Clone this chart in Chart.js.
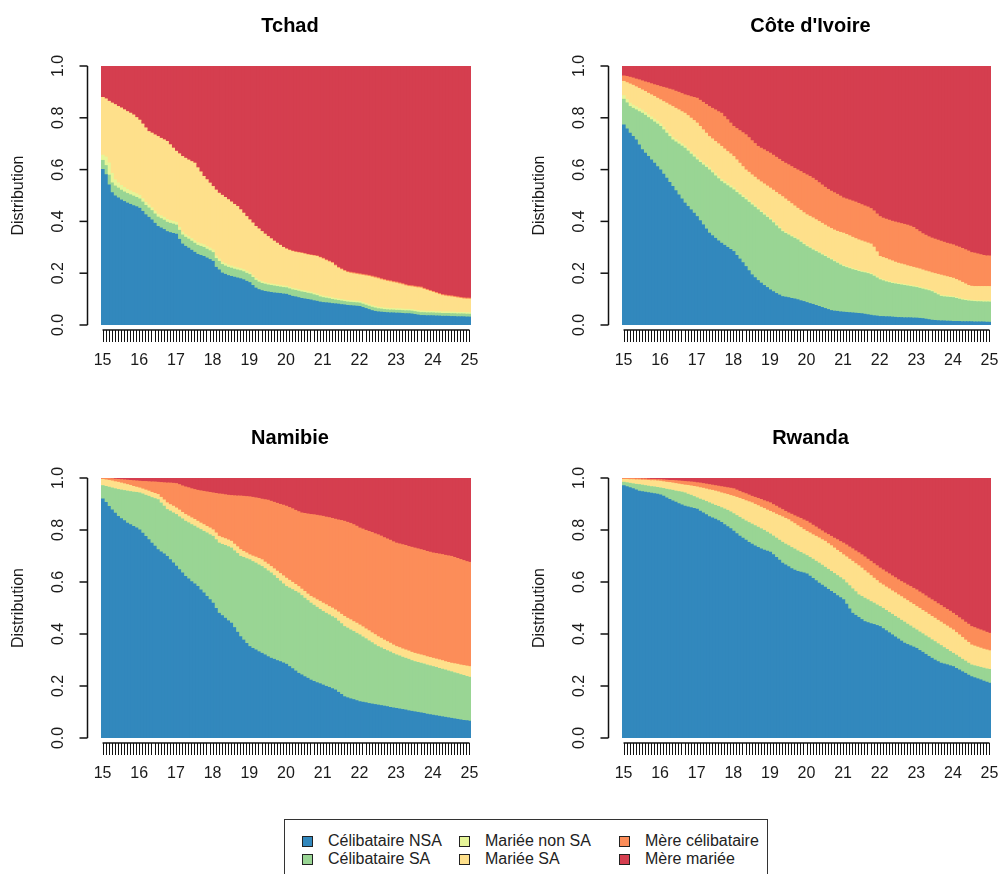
<!DOCTYPE html>
<html>
<head>
<meta charset="utf-8">
<script src="https://cdn.jsdelivr.net/npm/chart.js@4.4.1/dist/chart.umd.min.js"></script>
<style>
body { margin: 0; background: #fff; width: 998px; height: 874px; overflow: hidden; position: relative; font-family: "Liberation Sans", Arial, sans-serif; }
canvas { position: absolute; }
#legend { position: absolute; left: 284px; top: 819px; width: 484px; height: 90px; border: 1.5px solid #333; box-sizing: border-box; }
.sw { position: absolute; width: 9px; height: 9px; border: 1px solid #222; }
.lb { position: absolute; font-size: 16px; color: #222; line-height: 20px; white-space: nowrap; }
</style>
</head>
<body>
<canvas id="tchad" width="499" height="400" style="left:0;top:0"></canvas>
<canvas id="civ" width="499" height="400" style="left:499px;top:0"></canvas>
<canvas id="namibie" width="499" height="400" style="left:0;top:400px"></canvas>
<canvas id="rwanda" width="499" height="400" style="left:499px;top:400px"></canvas>
<div id="legend"></div>
<script>
//one bar per month of age, 15 to 25
const months = [];
for (let m = 0; m <= 120; m++) months.push(15 + m / 12);
const yearTicks = ["15", "16", "17", "18", "19", "20", "21", "22", "23", "24", "25"];
const yTicks = [0, 0.2, 0.4, 0.6, 0.8, 1.0];

const stateNames = ["Célibataire NSA", "Célibataire SA", "Mariée non SA", "Mariée SA", "Mère célibataire", "Mère mariée"];
const stateColors = ["#3288BD", "#99D594", "#E6F598", "#FEE08B", "#FC8D59", "#D53E4F"];

//upper edge (cumulative share) of each state band
//Tchad
const tchadCNSA = [
  .600,.580,.540,.510,.498,.490,.482,.476,.470,.465,.460,.456,
  .450,.438,.425,.415,.405,.392,.380,.374,.368,.360,.356,.353,
  .350,.330,.312,.303,.296,.288,.280,.272,.268,.264,.258,.252,
  .245,.222,.212,.200,.195,.190,.187,.184,.181,.178,.174,.168,
  .163,.152,.142,.136,.132,.129,.127,.125,.123,.122,.121,.119,
  .118,.114,.110,.108,.105,.102,.100,.098,.096,.093,.091,.088,
  .086,.085,.084,.082,.081,.080,.078,.077,.075,.074,.073,.072,
  .071,.067,.063,.059,.055,.052,.050,.049,.048,.047,.046,.046,
  .045,.045,.044,.043,.043,.042,.040,.038,.036,.036,.035,.035,
  .035,.034,.034,.033,.033,.033,.032,.032,.031,.031,.031,.030,
  .030];
const tchadCSA = [
  .635,.615,.578,.548,.536,.528,.520,.513,.507,.502,.497,.492,
  .486,.474,.461,.451,.441,.428,.416,.410,.404,.396,.392,.389,
  .385,.365,.347,.338,.331,.323,.315,.307,.303,.299,.292,.286,
  .279,.256,.245,.233,.227,.222,.219,.215,.212,.209,.205,.199,
  .194,.183,.172,.165,.160,.157,.154,.152,.150,.148,.146,.144,
  .143,.139,.135,.133,.130,.127,.125,.122,.120,.116,.113,.108,
  .105,.103,.101,.098,.096,.094,.092,.090,.088,.087,.086,.085,
  .084,.080,.076,.072,.068,.065,.062,.061,.059,.058,.057,.057,
  .056,.056,.055,.054,.054,.053,.051,.049,.047,.047,.046,.046,
  .046,.045,.045,.044,.044,.044,.043,.043,.042,.042,.042,.041,
  .041];
const tchadMNSA = [
  .655,.648,.625,.585,.560,.548,.538,.530,.523,.517,.511,.506,
  .500,.487,.473,.463,.452,.439,.427,.421,.415,.407,.403,.400,
  .396,.376,.358,.348,.341,.333,.325,.317,.313,.309,.302,.296,
  .289,.266,.254,.242,.236,.231,.227,.223,.220,.217,.213,.207,
  .201,.190,.179,.172,.167,.163,.160,.158,.156,.154,.152,.150,
  .149,.145,.141,.139,.136,.133,.131,.128,.126,.122,.119,.114,
  .111,.109,.107,.104,.102,.100,.098,.096,.094,.093,.092,.091,
  .090,.086,.082,.078,.074,.071,.068,.067,.065,.064,.063,.063,
  .062,.062,.061,.060,.060,.059,.057,.055,.053,.053,.052,.052,
  .052,.051,.051,.050,.050,.050,.049,.049,.048,.048,.048,.047,
  .047];
const tchadMSA = [
  .878,.872,.863,.856,.850,.843,.837,.830,.823,.817,.810,.800,
  .790,.775,.760,.746,.740,.733,.727,.720,.714,.708,.695,.682,
  .670,.660,.650,.643,.636,.630,.624,.606,.590,.573,.560,.547,
  .534,.520,.508,.500,.492,.483,.474,.465,.457,.444,.431,.418,
  .405,.393,.380,.370,.360,.350,.341,.332,.323,.315,.307,.299,
  .292,.287,.283,.280,.278,.276,.273,.270,.268,.266,.264,.259,
  .254,.248,.243,.238,.228,.219,.213,.207,.202,.199,.197,.195,
  .193,.191,.189,.187,.184,.181,.178,.174,.171,.168,.166,.163,
  .161,.158,.155,.151,.148,.147,.145,.143,.142,.137,.133,.129,
  .125,.121,.117,.113,.111,.109,.108,.106,.104,.102,.100,.099,
  .099];
const tchadMC = [
  .878,.872,.863,.856,.850,.843,.837,.830,.823,.817,.810,.800,
  .790,.775,.760,.746,.740,.733,.727,.720,.714,.708,.695,.682,
  .670,.660,.650,.643,.636,.630,.624,.606,.590,.573,.560,.547,
  .534,.520,.508,.500,.492,.483,.474,.465,.457,.444,.431,.418,
  .405,.393,.380,.370,.360,.350,.341,.332,.323,.315,.307,.299,
  .294,.289,.285,.282,.280,.278,.275,.272,.270,.268,.266,.261,
  .257,.251,.246,.241,.231,.222,.216,.210,.205,.203,.201,.199,
  .197,.195,.193,.191,.188,.185,.182,.178,.175,.172,.170,.167,
  .165,.162,.159,.155,.152,.151,.149,.147,.146,.141,.137,.133,
  .129,.125,.121,.117,.115,.113,.112,.110,.108,.106,.104,.103,
  .103];

//Côte d'Ivoire
const civCNSA = [
  .772,.756,.740,.727,.714,.695,.676,.663,.650,.637,.624,.611,
  .598,.582,.566,.550,.534,.518,.502,.486,.470,.457,.444,.431,
  .418,.402,.386,.370,.354,.344,.334,.324,.315,.307,.299,.291,
  .283,.268,.254,.240,.225,.209,.193,.182,.171,.161,.152,.144,
  .135,.128,.121,.115,.109,.107,.105,.102,.100,.097,.093,.090,
  .086,.082,.079,.075,.071,.067,.063,.059,.055,.053,.052,.050,
  .049,.048,.047,.046,.045,.044,.043,.041,.039,.037,.035,.034,
  .032,.032,.031,.031,.030,.029,.028,.028,.027,.027,.027,.026,
  .026,.025,.024,.022,.020,.018,.017,.016,.015,.015,.014,.014,
  .013,.013,.013,.012,.012,.012,.012,.011,.011,.011,.011,.010,
  .010];
const civCSA = [
  .871,.857,.843,.836,.830,.823,.817,.809,.800,.792,.783,.775,
  .766,.753,.740,.727,.714,.706,.698,.690,.682,.671,.659,.648,
  .637,.627,.617,.608,.598,.587,.575,.564,.553,.545,.537,.529,
  .521,.511,.502,.492,.483,.473,.463,.454,.444,.434,.424,.415,
  .405,.394,.382,.371,.360,.353,.347,.340,.334,.328,.319,.310,
  .302,.296,.289,.283,.277,.270,.264,.257,.251,.244,.238,.231,
  .225,.221,.217,.213,.210,.206,.203,.201,.198,.194,.188,.181,
  .174,.170,.166,.163,.160,.158,.156,.154,.152,.150,.148,.146,
  .144,.141,.138,.135,.132,.128,.122,.116,.110,.108,.107,.106,
  .105,.102,.099,.096,.094,.092,.091,.090,.089,.089,.088,.088,
  .088];
const civMNSA = [
  .885,.870,.856,.848,.842,.835,.829,.820,.811,.803,.794,.786,
  .776,.763,.749,.736,.723,.715,.707,.699,.690,.679,.667,.656,
  .645,.635,.625,.616,.606,.595,.583,.572,.561,.553,.545,.537,
  .529,.519,.509,.499,.490,.480,.470,.460,.450,.440,.430,.420,
  .410,.399,.387,.376,.365,.357,.351,.344,.338,.332,.323,.314,
  .306,.300,.293,.287,.281,.274,.268,.261,.255,.248,.242,.235,
  .229,.225,.221,.217,.214,.210,.207,.205,.202,.198,.192,.185,
  .178,.174,.170,.167,.164,.162,.160,.158,.156,.154,.152,.150,
  .148,.145,.142,.139,.136,.132,.126,.120,.114,.112,.111,.110,
  .109,.106,.103,.100,.098,.096,.095,.094,.093,.093,.092,.092,
  .092];
const civMSA = [
  .940,.935,.930,.925,.919,.913,.907,.901,.894,.888,.882,.875,
  .869,.862,.856,.849,.843,.836,.830,.823,.817,.808,.798,.789,
  .779,.766,.753,.740,.727,.718,.708,.699,.689,.679,.669,.660,
  .650,.637,.624,.611,.598,.589,.579,.570,.560,.552,.544,.536,
  .528,.520,.511,.503,.495,.486,.477,.468,.459,.450,.442,.433,
  .425,.419,.413,.406,.399,.392,.385,.378,.372,.366,.361,.357,
  .354,.349,.344,.338,.333,.328,.324,.320,.316,.312,.300,.282,
  .264,.260,.256,.251,.247,.242,.238,.235,.232,.228,.225,.222,
  .219,.216,.212,.208,.205,.201,.198,.195,.192,.189,.186,.183,
  .180,.175,.170,.164,.158,.152,.149,.148,.148,.148,.148,.148,
  .148];
const civMC = [
  .961,.959,.956,.953,.949,.946,.942,.938,.935,.931,.927,.924,
  .920,.917,.914,.910,.907,.902,.898,.893,.888,.885,.881,.878,
  .875,.867,.859,.851,.843,.836,.830,.823,.817,.804,.792,.779,
  .766,.758,.750,.742,.734,.723,.711,.700,.689,.682,.676,.669,
  .663,.655,.647,.639,.631,.624,.618,.611,.604,.598,.592,.585,
  .579,.573,.566,.558,.549,.540,.531,.523,.516,.510,.504,.497,
  .490,.486,.482,.478,.474,.469,.464,.459,.455,.449,.440,.428,
  .418,.412,.408,.404,.400,.397,.394,.391,.388,.385,.381,.376,
  .368,.360,.352,.346,.340,.335,.331,.327,.323,.319,.315,.312,
  .309,.304,.300,.295,.290,.285,.279,.277,.274,.271,.268,.266,
  .266];

//Namibie (no visible "Mariée non SA" band)
const namibieCNSA = [
  .919,.905,.890,.877,.864,.852,.843,.835,.826,.820,.813,.807,
  .800,.787,.775,.762,.749,.737,.724,.715,.707,.698,.685,.673,
  .660,.647,.634,.621,.611,.601,.592,.582,.569,.557,.544,.531,
  .518,.498,.479,.470,.460,.450,.441,.424,.406,.389,.376,.363,
  .351,.344,.338,.331,.325,.319,.312,.306,.302,.297,.293,.288,
  .283,.274,.266,.257,.248,.242,.235,.229,.222,.217,.212,.208,
  .203,.198,.194,.189,.184,.175,.167,.158,.154,.150,.147,.143,
  .139,.137,.135,.132,.130,.128,.126,.124,.122,.120,.117,.115,
  .113,.111,.109,.107,.104,.102,.100,.098,.096,.094,.091,.089,
  .087,.085,.083,.081,.079,.077,.075,.073,.071,.069,.067,.066,
  .064];
const namibieCSA = [
  .970,.967,.964,.961,.958,.955,.953,.951,.949,.947,.945,.944,
  .942,.938,.933,.929,.924,.920,.916,.903,.891,.878,.872,.865,
  .859,.850,.842,.833,.827,.820,.814,.807,.801,.794,.788,.781,
  .775,.762,.749,.744,.740,.735,.730,.719,.709,.698,.694,.689,
  .685,.678,.672,.665,.659,.651,.642,.634,.624,.613,.603,.592,
  .582,.576,.570,.563,.557,.547,.537,.528,.518,.510,.502,.494,
  .486,.479,.473,.466,.460,.449,.439,.428,.422,.415,.409,.402,
  .396,.388,.381,.373,.366,.358,.351,.346,.340,.335,.330,.324,
  .319,.315,.310,.306,.302,.297,.293,.290,.287,.284,.280,.277,
  .274,.271,.267,.264,.261,.257,.254,.250,.247,.243,.240,.236,
  .233];
const namibieMNSA = namibieCSA;
const namibieMSA = [
  .994,.992,.990,.988,.985,.983,.980,.977,.974,.971,.967,.964,
  .961,.957,.953,.949,.944,.940,.936,.925,.915,.904,.897,.891,
  .884,.876,.867,.859,.853,.846,.840,.833,.826,.820,.813,.807,
  .800,.788,.775,.770,.766,.761,.756,.745,.735,.724,.717,.711,
  .704,.699,.695,.690,.685,.676,.668,.659,.650,.641,.632,.623,
  .614,.606,.598,.590,.582,.572,.563,.553,.544,.538,.531,.525,
  .518,.512,.505,.499,.492,.484,.475,.467,.460,.454,.447,.441,
  .434,.427,.419,.412,.404,.397,.389,.383,.376,.370,.364,.357,
  .351,.347,.342,.338,.334,.329,.325,.322,.319,.316,.312,.309,
  .306,.303,.300,.297,.293,.290,.287,.285,.283,.280,.278,.276,
  .274];
const namibieMC = [
  1.00,.999,.998,.997,.995,.994,.993,.992,.991,.990,.989,.988,
  .987,.986,.986,.985,.984,.984,.983,.982,.981,.980,.980,.979,
  .978,.974,.969,.965,.962,.958,.955,.952,.950,.948,.946,.944,
  .942,.940,.938,.937,.935,.933,.932,.931,.930,.930,.929,.928,
  .927,.925,.923,.921,.918,.916,.914,.910,.906,.902,.898,.895,
  .891,.886,.881,.875,.870,.865,.863,.861,.859,.858,.856,.854,
  .852,.849,.847,.844,.841,.838,.836,.833,.829,.825,.820,.814,
  .807,.803,.798,.794,.790,.785,.781,.776,.770,.765,.760,.754,
  .749,.746,.743,.740,.736,.733,.730,.727,.724,.721,.717,.714,
  .711,.709,.707,.705,.702,.700,.698,.694,.690,.686,.682,.678,
  .675];

//Rwanda (no visible "Mariée non SA" band)
const rwandaCNSA = [
  .970,.966,.962,.958,.953,.949,.947,.945,.943,.941,.939,.937,
  .934,.929,.923,.917,.911,.906,.901,.896,.891,.888,.885,.882,
  .879,.872,.865,.858,.851,.846,.841,.835,.828,.820,.812,.804,
  .795,.785,.776,.768,.760,.752,.745,.738,.732,.727,.722,.718,
  .714,.704,.694,.683,.672,.665,.658,.651,.645,.640,.637,.634,
  .630,.622,.613,.604,.595,.587,.579,.571,.563,.555,.547,.539,
  .531,.514,.496,.479,.471,.463,.455,.447,.443,.439,.436,.432,
  .428,.420,.412,.404,.396,.388,.380,.372,.364,.359,.354,.349,
  .344,.336,.329,.321,.313,.306,.299,.293,.287,.284,.281,.277,
  .274,.267,.261,.254,.248,.241,.235,.231,.227,.223,.218,.214,
  .210];
const rwandaCSA = [
  .983,.981,.979,.977,.975,.974,.972,.970,.968,.966,.965,.963,
  .961,.959,.956,.954,.952,.949,.947,.945,.942,.937,.933,.928,
  .923,.918,.914,.909,.904,.899,.894,.890,.885,.880,.875,.869,
  .862,.855,.848,.841,.834,.828,.822,.816,.810,.804,.798,.791,
  .784,.776,.768,.760,.752,.745,.739,.732,.726,.719,.713,.707,
  .701,.694,.687,.679,.672,.664,.656,.648,.640,.632,.624,.616,
  .608,.596,.585,.573,.562,.550,.544,.537,.531,.524,.518,.511,
  .505,.498,.490,.482,.475,.467,.460,.452,.445,.437,.430,.422,
  .415,.407,.400,.392,.385,.377,.370,.362,.355,.347,.340,.332,
  .325,.318,.310,.302,.295,.287,.280,.277,.274,.271,.268,.265,
  .263];
const rwandaMNSA = rwandaCSA;
const rwandaMSA = [
  .994,.994,.993,.993,.992,.992,.991,.991,.990,.989,.989,.988,
  .987,.985,.983,.982,.980,.978,.976,.974,.972,.971,.969,.967,
  .965,.962,.960,.957,.954,.952,.949,.946,.942,.939,.936,.932,
  .929,.925,.921,.917,.912,.908,.904,.898,.893,.887,.882,.876,
  .871,.866,.860,.855,.850,.844,.839,.831,.824,.816,.809,.801,
  .794,.788,.781,.775,.769,.762,.756,.747,.739,.730,.721,.713,
  .704,.696,.687,.679,.670,.662,.653,.643,.634,.624,.614,.605,
  .595,.588,.580,.573,.565,.558,.550,.543,.535,.528,.520,.513,
  .505,.498,.490,.483,.475,.467,.460,.452,.445,.437,.430,.422,
  .415,.405,.396,.386,.376,.367,.357,.353,.349,.345,.341,.338,
  .335];
const rwandaMC = [
  .999,.999,.998,.998,.997,.997,.996,.996,.995,.994,.994,.993,
  .993,.992,.991,.990,.990,.989,.988,.987,.986,.985,.984,.983,
  .981,.980,.978,.976,.974,.972,.970,.968,.966,.964,.962,.960,
  .958,.953,.948,.943,.939,.934,.929,.925,.921,.917,.912,.908,
  .904,.897,.891,.884,.878,.871,.865,.860,.854,.849,.844,.838,
  .833,.826,.818,.811,.803,.796,.788,.782,.775,.768,.762,.755,
  .749,.742,.734,.727,.719,.712,.704,.696,.687,.679,.670,.662,
  .653,.646,.638,.631,.623,.616,.608,.601,.595,.588,.582,.575,
  .569,.561,.554,.546,.538,.531,.524,.516,.509,.501,.494,.487,
  .479,.471,.462,.454,.445,.437,.428,.424,.419,.415,.411,.406,
  .402];

//draws the R style axes, axis labels and panel title from the chart's own scales
const rAxes = {
  id: "rAxes",
  afterDraw(chart, args, opts) {
    const ctx = chart.ctx;
    const a = chart.chartArea;
    const x = chart.scales.x;
    const y = chart.scales.y;
    ctx.save();
    ctx.strokeStyle = "#111";
    ctx.fillStyle = "#1a1a1a";

    //y axis, set off to the left of the bars
    const ax = Math.round(a.left - 14) + 0.5;
    ctx.lineWidth = 1.5;
    ctx.beginPath();
    ctx.moveTo(ax, y.getPixelForValue(0));
    ctx.lineTo(ax, y.getPixelForValue(1));
    ctx.stroke();
    ctx.font = "16px 'Liberation Sans', Arial, sans-serif";
    ctx.textAlign = "center";
    ctx.textBaseline = "middle";
    yTicks.forEach(v => {
      const py = y.getPixelForValue(v);
      ctx.beginPath();
      ctx.moveTo(ax - 8, py);
      ctx.lineTo(ax, py);
      ctx.stroke();
      ctx.save();
      ctx.translate(ax - 29, py);
      ctx.rotate(-Math.PI / 2);
      ctx.fillText(v.toFixed(1), 0, 0);
      ctx.restore();
    });
    ctx.save();
    ctx.translate(ax - 69, (y.getPixelForValue(0) + y.getPixelForValue(1)) / 2);
    ctx.rotate(-Math.PI / 2);
    ctx.fillText("Distribution", 0, 0);
    ctx.restore();

    //x axis: a tick for every month, a label every year
    const ty = a.bottom + 5;
    ctx.lineWidth = 1.5;
    ctx.beginPath();
    ctx.moveTo(x.getPixelForValue(0), ty);
    ctx.lineTo(x.getPixelForValue(months.length - 1), ty);
    ctx.stroke();
    ctx.lineWidth = 1;
    for (let i = 0; i < months.length; i++) {
      const px = Math.round(x.getPixelForValue(i)) + 0.5;
      ctx.beginPath();
      ctx.moveTo(px, ty);
      ctx.lineTo(px, ty + 12);
      ctx.stroke();
    }
    yearTicks.forEach((lab, k) => {
      ctx.fillText(lab, x.getPixelForValue(k * 12), a.bottom + 36);
    });

    //title
    ctx.font = "bold 20px 'Liberation Sans', Arial, sans-serif";
    ctx.fillStyle = "#000";
    ctx.fillText(opts.title, (a.left + a.right) / 2 + 4, a.top - 40);
    ctx.restore();
  }
};

function makePanel(id, title, tops, pad) {
  //band k runs from edge k to edge k+1
  const edges = [months.map(() => 0)].concat(tops, [months.map(() => 1)]);
  const datasets = stateNames.map((name, k) => ({
    label: name,
    backgroundColor: stateColors[k],
    data: months.map((m, i) => [edges[k][i], edges[k + 1][i]])
  }));
  new Chart(document.getElementById(id), {
    type: "bar",
    data: { labels: months, datasets: datasets },
    options: {
      responsive: false,
      animation: false,
      devicePixelRatio: 1,
      layout: { padding: pad },
      datasets: { bar: { grouped: false, barPercentage: 1, categoryPercentage: 1, borderWidth: 0, inflateAmount: 0.6 } },
      scales: {
        x: { display: false },
        y: { display: false, min: 0, max: 1, stacked: false }
      },
      plugins: { legend: { display: false }, tooltip: { enabled: false }, rAxes: { title: title } }
    },
    plugins: [rAxes]
  });
}

makePanel("tchad", "Tchad", [tchadCNSA, tchadCSA, tchadMNSA, tchadMSA, tchadMC], { left: 101, right: 28, top: 66, bottom: 75 });
makePanel("civ", "Côte d'Ivoire", [civCNSA, civCSA, civMNSA, civMSA, civMC], { left: 123, right: 7, top: 66, bottom: 75 });
makePanel("namibie", "Namibie", [namibieCNSA, namibieCSA, namibieMNSA, namibieMSA, namibieMC], { left: 101, right: 28, top: 78, bottom: 62 });
makePanel("rwanda", "Rwanda", [rwandaCNSA, rwandaCSA, rwandaMNSA, rwandaMSA, rwandaMC], { left: 123, right: 7, top: 78, bottom: 62 });

//legend box, filled column by column as in the reference
const legend = document.getElementById("legend");
const legendText = [[43, 11], [43, 29], [200, 11], [200, 29], [360, 11], [360, 29]];
stateNames.forEach((name, k) => {
  const sw = document.createElement("div");
  sw.className = "sw";
  sw.style.left = (legendText[k][0] - 26) + "px";
  sw.style.top = (legendText[k][1] + 5) + "px";
  sw.style.background = stateColors[k];
  legend.appendChild(sw);
  const lb = document.createElement("div");
  lb.className = "lb";
  lb.style.left = legendText[k][0] + "px";
  lb.style.top = legendText[k][1] + "px";
  lb.textContent = name;
  legend.appendChild(lb);
});
</script>
</body>
</html>
